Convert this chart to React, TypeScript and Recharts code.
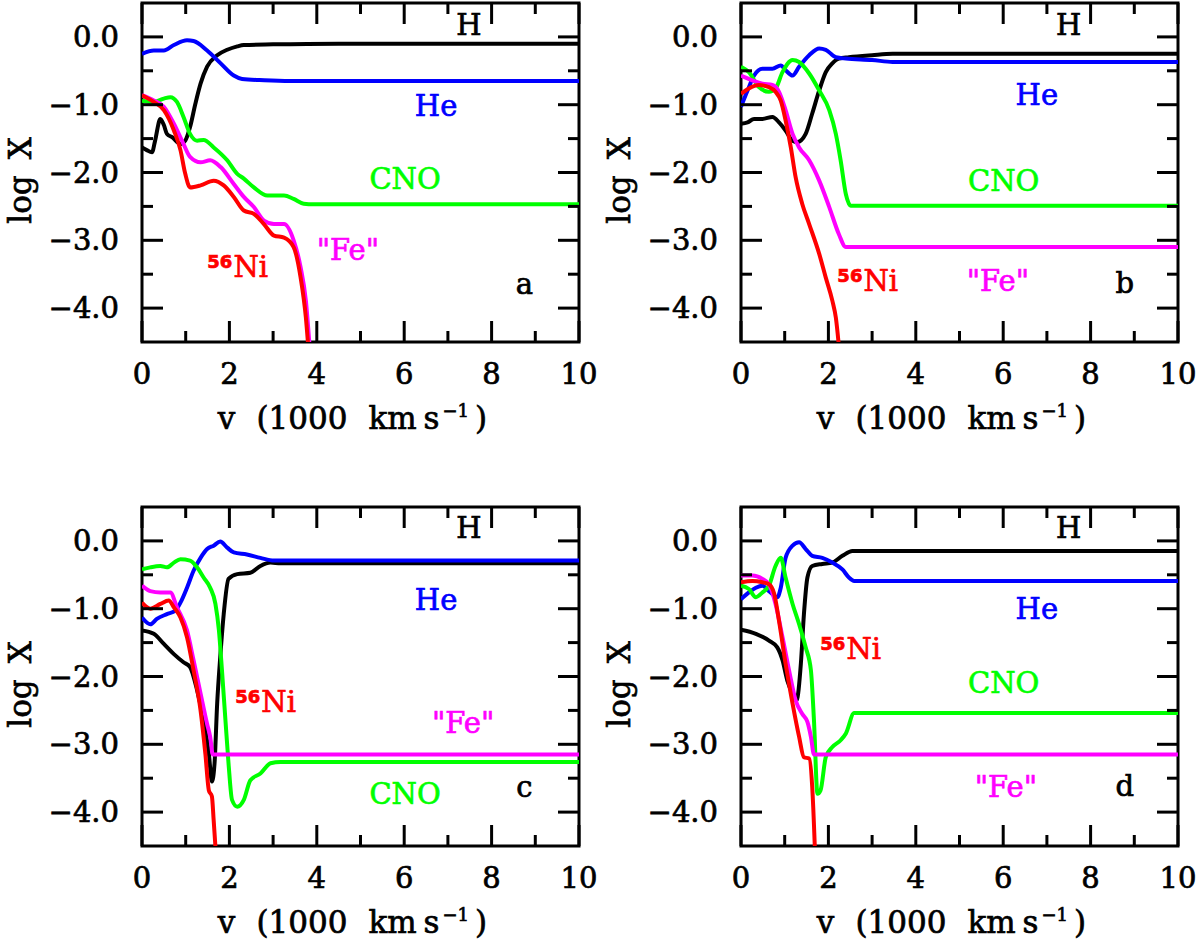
import React from "react"
import { LineChart, Line, XAxis, YAxis, ReferenceDot, ReferenceArea } from "recharts"

// abundance profiles, [v (1000 km/s), log X]
const A_H = [[0,-1.63],[0.11,-1.67],[0.23,-1.7],[0.3,-1.53],[0.42,-1.21],[0.5,-1.3],[0.57,-1.43],[0.69,-1.48],[0.88,-1.58],[0.99,-1.53],[1.1,-1.33],[1.22,-0.99],[1.34,-0.69],[1.49,-0.44],[1.72,-0.27],[1.95,-0.19],[2.18,-0.14],[2.33,-0.12],[3.0,-0.11],[4.5,-0.1],[10,-0.1]]
const A_HE = [[0,-0.25],[0.27,-0.2],[0.5,-0.2],[0.73,-0.12],[1.03,-0.05],[1.18,-0.06],[1.49,-0.2],[1.8,-0.39],[2.1,-0.57],[2.29,-0.62],[2.8,-0.64],[3.4,-0.65],[10,-0.65]]
const A_CNO = [[0,-0.94],[0.27,-0.96],[0.5,-0.91],[0.65,-0.89],[0.8,-0.96],[0.95,-1.18],[1.1,-1.43],[1.26,-1.53],[1.41,-1.52],[1.64,-1.63],[1.95,-1.82],[2.18,-2.02],[2.33,-2.09],[2.56,-2.22],[2.87,-2.34],[3.25,-2.34],[3.47,-2.39],[3.7,-2.46],[3.93,-2.47],[10,-2.47]]
const A_FE = [[0,-0.86],[0.27,-0.94],[0.5,-1.03],[0.73,-1.28],[0.95,-1.58],[1.1,-1.77],[1.34,-1.85],[1.56,-1.82],[1.8,-1.92],[2.1,-2.17],[2.33,-2.36],[2.56,-2.51],[2.79,-2.71],[3.02,-2.76],[3.25,-2.76],[3.47,-3.0],[3.63,-3.4],[3.75,-3.89],[3.85,-4.7]]
const A_NI = [[0,-0.86],[0.27,-0.96],[0.5,-1.08],[0.73,-1.38],[0.88,-1.67],[0.99,-2.02],[1.1,-2.22],[1.34,-2.19],[1.64,-2.12],[1.87,-2.19],[2.1,-2.36],[2.33,-2.56],[2.56,-2.61],[2.79,-2.76],[3.02,-2.93],[3.25,-2.96],[3.47,-3.1],[3.63,-3.55],[3.75,-4.14],[3.82,-4.7]]

const B_H = [[0,-1.28],[0.15,-1.26],[0.3,-1.21],[0.49,-1.21],[0.72,-1.18],[0.87,-1.26],[1.02,-1.38],[1.18,-1.53],[1.29,-1.55],[1.48,-1.43],[1.63,-1.13],[1.79,-0.79],[1.94,-0.52],[2.09,-0.39],[2.24,-0.32],[2.47,-0.3],[3.0,-0.27],[3.47,-0.25],[10,-0.25]]
const B_HE = [[0,-1.03],[0.15,-0.79],[0.3,-0.57],[0.49,-0.47],[0.72,-0.47],[0.91,-0.42],[1.02,-0.49],[1.18,-0.57],[1.33,-0.44],[1.56,-0.27],[1.79,-0.17],[1.94,-0.19],[2.17,-0.3],[2.4,-0.32],[3.0,-0.34],[3.47,-0.37],[10,-0.37]]
const B_CNO = [[0,-0.44],[0.18,-0.52],[0.41,-0.74],[0.64,-0.81],[0.79,-0.76],[0.95,-0.52],[1.18,-0.34],[1.33,-0.37],[1.56,-0.54],[1.79,-0.79],[2.02,-1.08],[2.17,-1.43],[2.28,-1.82],[2.4,-2.32],[2.51,-2.49],[10,-2.49]]
const B_FE = [[0,-0.57],[0.26,-0.64],[0.49,-0.69],[0.72,-0.71],[0.87,-0.81],[1.02,-1.08],[1.18,-1.43],[1.33,-1.63],[1.56,-1.82],[1.79,-2.12],[2.02,-2.51],[2.24,-2.91],[2.4,-3.1],[10,-3.1]]
const B_NI = [[0,-0.84],[0.18,-0.76],[0.41,-0.71],[0.64,-0.74],[0.79,-0.81],[0.91,-0.94],[1.02,-1.23],[1.14,-1.63],[1.25,-2.07],[1.4,-2.46],[1.56,-2.76],[1.79,-3.2],[1.94,-3.55],[2.09,-3.89],[2.17,-4.14],[2.26,-4.7]]

const C_H = [[0,-1.32],[0.27,-1.37],[0.5,-1.52],[0.73,-1.67],[0.95,-1.79],[1.1,-1.86],[1.26,-2.2],[1.41,-2.65],[1.53,-3.14],[1.6,-3.55],[1.66,-3.28],[1.72,-2.4],[1.79,-1.72],[1.87,-1.08],[1.98,-0.56],[2.18,-0.49],[2.48,-0.47],[2.71,-0.37],[2.94,-0.32],[3.17,-0.33],[10,-0.33]]
const C_HE = [[0,-1.13],[0.19,-1.23],[0.34,-1.15],[0.57,-1.08],[0.76,-1.03],[0.88,-0.91],[1.03,-0.69],[1.18,-0.44],[1.34,-0.25],[1.49,-0.12],[1.64,-0.07],[1.79,-0.01],[1.95,-0.1],[2.1,-0.17],[2.4,-0.2],[2.71,-0.25],[3.02,-0.29],[10,-0.29]]
const C_CNO = [[0,-0.42],[0.19,-0.39],[0.42,-0.37],[0.57,-0.39],[0.73,-0.32],[0.88,-0.27],[1.1,-0.29],[1.26,-0.39],[1.41,-0.54],[1.56,-0.69],[1.68,-0.93],[1.76,-1.32],[1.83,-1.91],[1.91,-2.65],[1.98,-3.28],[2.06,-3.82],[2.18,-3.92],[2.33,-3.82],[2.48,-3.53],[2.71,-3.43],[2.94,-3.28],[3.17,-3.26],[10,-3.26]]
const C_FE = [[0,-0.66],[0.19,-0.74],[0.42,-0.76],[0.65,-0.76],[0.8,-0.98],[1.03,-1.32],[1.18,-1.76],[1.34,-2.25],[1.49,-2.7],[1.56,-2.89],[1.62,-3.15],[10,-3.15]]
const C_NI = [[0,-0.91],[0.19,-1.0],[0.42,-0.93],[0.61,-0.88],[0.73,-0.98],[0.88,-1.13],[1.03,-1.42],[1.18,-1.91],[1.34,-2.5],[1.45,-3.14],[1.53,-3.68],[1.6,-3.77],[1.64,-4.12],[1.7,-4.7]]

const D_H = [[0,-1.31],[0.34,-1.37],[0.64,-1.47],[0.83,-1.57],[0.95,-1.76],[1.06,-2.06],[1.18,-2.25],[1.27,-2.35],[1.37,-1.81],[1.44,-1.08],[1.52,-0.54],[1.63,-0.37],[1.86,-0.34],[2.09,-0.32],[2.32,-0.22],[2.55,-0.15],[10,-0.15]]
const D_HE = [[0,-0.86],[0.18,-0.76],[0.34,-0.69],[0.49,-0.66],[0.64,-0.74],[0.83,-0.83],[0.91,-0.69],[1.02,-0.25],[1.18,-0.07],[1.33,-0.02],[1.48,-0.12],[1.63,-0.22],[1.86,-0.25],[2.09,-0.32],[2.32,-0.42],[2.47,-0.54],[2.59,-0.59],[10,-0.59]]
const D_CNO = [[0,-0.66],[0.18,-0.71],[0.34,-0.83],[0.49,-0.76],[0.64,-0.66],[0.79,-0.37],[0.91,-0.25],[1.02,-0.54],[1.18,-0.93],[1.33,-1.23],[1.48,-1.57],[1.6,-1.91],[1.67,-2.65],[1.75,-3.73],[1.82,-3.68],[1.94,-3.19],[2.09,-3.04],[2.28,-2.94],[2.4,-2.84],[2.59,-2.54],[10,-2.54]]
const D_FE = [[0,-0.51],[0.26,-0.51],[0.49,-0.56],[0.64,-0.64],[0.79,-0.93],[0.95,-1.42],[1.1,-1.91],[1.25,-2.35],[1.4,-2.55],[1.52,-2.67],[1.6,-2.89],[1.67,-3.15],[10,-3.15]]
const D_NI = [[0,-0.61],[0.26,-0.59],[0.49,-0.61],[0.64,-0.64],[0.76,-0.78],[0.87,-1.18],[1.02,-1.81],[1.18,-2.4],[1.33,-2.89],[1.44,-3.19],[1.56,-3.21],[1.63,-3.63],[1.7,-4.7]]

const X_TICKS = [0, 1, 2, 3, 4, 5, 6, 7, 8, 9, 10]
const Y_TICKS = [0, -0.5, -1, -1.5, -2, -2.5, -3, -3.5, -4]

const FONT = "'DejaVu Serif', 'Liberation Serif', serif"
const COLORS = { H: "#000000", He: "#0000ff", CNO: "#00ff00", Fe: "#ff00ff", Ni: "#ff0000" }
const MAJ = 21
const MIN = 11
const PLOT_W = 437
const PLOT_H = 339
const TXT = { fontFamily: FONT, strokeWidth: 0.7 }

const toPts = (arr) => arr.map(([v, x]) => ({ v, x }))
const yFmt = (v) => (v === 0 ? "0.0" : "\u2212" + Math.abs(v).toFixed(1))

// bottom axis tick, plus its twin on the top edge of the frame
function BottomTick({ x, y, payload }) {
  const major = payload.value % 2 === 0
  const len = major ? MAJ : MIN
  const top = y - PLOT_H
  return (
    <g>
      <line x1={x} x2={x} y1={y} y2={y - len} stroke="#000" strokeWidth={3} />
      <line x1={x} x2={x} y1={top} y2={top + len} stroke="#000" strokeWidth={3} />
      {major && (
        <text x={x} y={y + 42} textAnchor="middle" fontSize={29} fill="#000" stroke="#000" {...TXT}>
          {payload.value}
        </text>
      )}
    </g>
  )
}

// left axis tick, plus its twin on the right edge
function LeftTick({ x, y, payload }) {
  const major = Number.isInteger(payload.value)
  const len = major ? MAJ : MIN
  const right = x + PLOT_W
  return (
    <g>
      <line x1={x} x2={x + len} y1={y} y2={y} stroke="#000" strokeWidth={3} />
      <line x1={right} x2={right - len} y1={y} y2={y} stroke="#000" strokeWidth={3} />
      {major && (
        <text x={x - 23} y={y + 10} textAnchor="end" fontSize={29} fill="#000" stroke="#000" {...TXT}>
          {yFmt(payload.value)}
        </text>
      )}
    </g>
  )
}

function XLabel({ viewBox }) {
  const { x, y, width } = viewBox
  return (
    <text x={x + width / 2 - 8} y={y + 87} textAnchor="middle" fontSize={31} fill="#000" stroke="#000" {...TXT}>
      v<tspan dx={21}>(1000</tspan>
      <tspan dx={21}>km</tspan>
      <tspan dx={7}>s</tspan>
      <tspan dx={3} dy={-12} fontSize={18}>{"\u22121"}</tspan>
      <tspan dx={6} dy={12}>)</tspan>
    </text>
  )
}

function YLabel({ viewBox }) {
  const { y, height } = viewBox
  const cx = 20
  const cy = y + height / 2 + 8
  return (
    <text x={cx} y={cy} transform={`rotate(-90 ${cx} ${cy})`} textAnchor="middle" dominantBaseline="central"
      fontSize={31} fill="#000" stroke="#000" {...TXT}>
      log<tspan dx={16}>X</tspan>
    </text>
  )
}

function Tag({ viewBox, name, color }) {
  const x = viewBox.x + (viewBox.width || 0) / 2
  const y = viewBox.y + (viewBox.height || 0) / 2 + 10
  if (name === "Ni") {
    return (
      <text x={x} y={y} textAnchor="middle" fill={color} stroke={color} fontSize={29} {...TXT}>
        <tspan dy={-9} fontSize={18} fontWeight="bold" fontFamily="'DejaVu Sans', sans-serif">56</tspan>
        <tspan dy={9} dx={1}>Ni</tspan>
      </text>
    )
  }
  const label = name === "Fe" ? "\"Fe\"" : name
  return (
    <text x={x} y={y} textAnchor="middle" fill={color} stroke={color} fontSize={29} {...TXT}>
      {label}
    </text>
  )
}

const PANELS = [
  {
    left: 0, top: 0,
    series: { H: A_H, He: A_HE, CNO: A_CNO, Fe: A_FE, Ni: A_NI },
    tags: [["H", 7.48, 0.17], ["He", 6.73, -1.02], ["CNO", 6.02, -2.1], ["Fe", 4.71, -3.15], ["Ni", 2.19, -3.4], ["a", 8.75, -3.64]],
  },
  {
    left: 599, top: 0,
    series: { H: B_H, He: B_HE, CNO: B_CNO, Fe: B_FE, Ni: B_NI },
    tags: [["H", 7.5, 0.17], ["He", 6.77, -0.86], ["CNO", 6.01, -2.12], ["Fe", 5.88, -3.6], ["Ni", 2.9, -3.6], ["b", 8.78, -3.63]],
  },
  {
    left: 0, top: 504,
    series: { H: C_H, He: C_HE, CNO: C_CNO, Fe: C_FE, Ni: C_NI },
    tags: [["H", 7.48, 0.19], ["He", 6.73, -0.87], ["Ni", 2.83, -2.38], ["Fe", 7.35, -2.68], ["CNO", 6.02, -3.74], ["c", 8.75, -3.63]],
  },
  {
    left: 599, top: 504,
    series: { H: D_H, He: D_HE, CNO: D_CNO, Fe: D_FE, Ni: D_NI },
    tags: [["H", 7.5, 0.19], ["He", 6.77, -1.01], ["Ni", 2.51, -1.6], ["CNO", 6.01, -2.09], ["Fe", 6.06, -3.63], ["d", 8.78, -3.62]],
  },
]

function Panel({ left, top, series, tags }) {
  return (
    <div style={{ position: "absolute", left, top }}>
      <LineChart width={600} height={470} margin={{ top: 3, right: 21, bottom: 0, left: 0 }}>
        <XAxis xAxisId="b" type="number" dataKey="v" domain={[0, 10]} ticks={X_TICKS} interval={0}
          allowDataOverflow tickSize={0} tickMargin={0} tickLine={false} axisLine={false}
          tick={(p) => <BottomTick {...p} />} height={128} label={(p) => <XLabel {...p} />} />
        <YAxis yAxisId="l" type="number" domain={[-4.5, 0.5]} ticks={Y_TICKS} interval={0}
          allowDataOverflow tickSize={0} tickMargin={0} tickLine={false} axisLine={false}
          tick={(p) => <LeftTick {...p} />} width={142} label={(p) => <YLabel {...p} />} />
        {Object.entries(series).map(([name, pts]) => (
          <Line key={name} xAxisId="b" yAxisId="l" data={toPts(pts)} dataKey="x" type="monotone"
            stroke={COLORS[name]} strokeWidth={4} dot={false} activeDot={false} isAnimationActive={false} />
        ))}
        <ReferenceArea xAxisId="b" yAxisId="l" x1={0} x2={10} y1={-4.5} y2={0.5}
          fill="none" fillOpacity={0} stroke="#000" strokeWidth={3} ifOverflow="visible" />
        {tags.map(([name, v, x]) => (
          <ReferenceDot key={name} xAxisId="b" yAxisId="l" x={v} y={x} r={0} fill="none" stroke="none"
            label={(p) => <Tag {...p} name={name} color={COLORS[name] || "#000"} />} />
        ))}
      </LineChart>
    </div>
  )
}

export default function App() {
  return (
    <div style={{ position: "absolute", left: 0, top: 0, width: 1200, height: 946, background: "#fff" }}>
      {PANELS.map((p, i) => (
        <Panel key={i} {...p} />
      ))}
    </div>
  )
}
